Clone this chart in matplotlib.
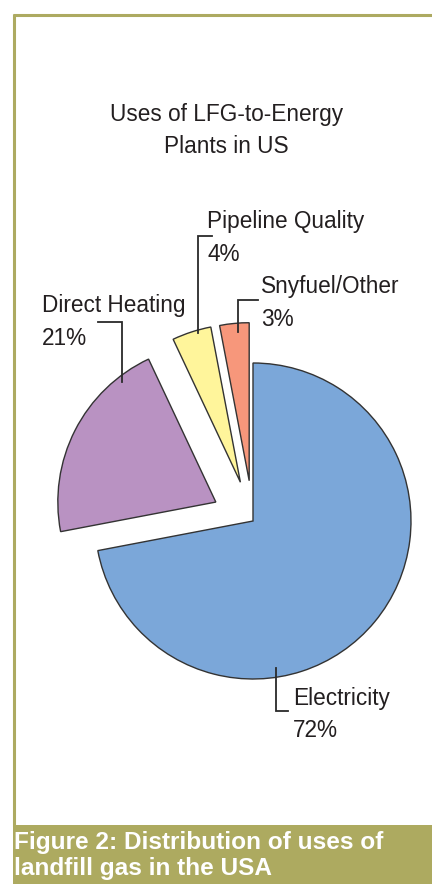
import matplotlib
matplotlib.use("Agg")
import matplotlib.pyplot as plt
from matplotlib import font_manager as fm
from matplotlib.patches import Rectangle

# ---- data ----
categories = ["Electricity", "Direct Heating", "Pipeline Quality", "Snyfuel/Other"]
values = [72, 21, 4, 3]
colors = ["#7BA7D9", "#B992C2", "#FFF59B", "#F7977B"]
explode_frac = [0.0, 0.264, 0.258, 0.256]
title_lines = ["Uses of LFG-to-Energy", "Plants in US"]
caption_lines = ["Figure 2: Distribution of uses of", "landfill gas in the USA"]

W, H = 432, 884
R = 158
fig = plt.figure(figsize=(W / 100, H / 100), dpi=100)
ax = fig.add_axes([0, 0, 1, 1])


def Y(py):
    return H - py


names = {f.name for f in fm.fontManager.ttflist}
if "Liberation Sans Narrow" in names:
    fam, fs = ["Liberation Sans Narrow", "DejaVu Sans"], 19.8
else:
    fam, fs = ["Liberation Sans", "DejaVu Sans"], 16.3
cap_fam = ["Liberation Sans", "DejaVu Sans"]
olive = "#ADAA61"
txt = "#231F20"

# frame lines
ax.plot([13, W], [Y(15.3), Y(15.3)], color=olive, lw=2.2, solid_capstyle="butt", zorder=1)
ax.plot([14.3, 14.3], [Y(14), Y(826)], color=olive, lw=2.2, solid_capstyle="butt", zorder=1)
ax.add_patch(Rectangle((12.5, 0), W - 12.5, Y(825), facecolor="#ADAA60", edgecolor="none", zorder=1))

# pie (explode in matplotlib is in data units, so scale by the radius)
wedges, _ = ax.pie(values, colors=colors, explode=[e * R for e in explode_frac],
                   startangle=90, counterclock=False, center=(253, Y(521)), radius=R,
                   frame=True,
                   wedgeprops=dict(edgecolor="#333333", linewidth=1.0))

# title
for line, by in zip(title_lines, [121, 153]):
    ax.text(226.5, Y(by), line, ha="center", va="baseline", fontsize=fs,
            family=fam, color=txt)

# labels: (left x, baseline1, baseline2) and leader polyline in px
label_pos = {
    "Electricity": (293, 705, 737),
    "Direct Heating": (42, 312, 345),
    "Pipeline Quality": (207, 228, 261),
    "Snyfuel/Other": (261, 293, 326),
}
leaders = {
    "Electricity": [(276, 668), (276, 711), (288, 711)],
    "Direct Heating": [(98, 322), (122, 322), (122, 382)],
    "Pipeline Quality": [(212, 236), (198, 236), (198, 333)],
    "Snyfuel/Other": [(258, 300), (238, 300), (238, 332)],
}
for cat, v in zip(categories, values):
    x, b1, b2 = label_pos[cat]
    ax.text(x, Y(b1), cat, ha="left", va="baseline", fontsize=fs, family=fam, color=txt)
    ax.text(x, Y(b2), f"{v}%", ha="left", va="baseline", fontsize=fs, family=fam, color=txt)
    pts = leaders[cat]
    ax.plot([p[0] for p in pts], [Y(p[1]) for p in pts], color="#2a2a2a", lw=1.3,
            solid_joinstyle="miter", zorder=5)

# caption
for line, by in zip(caption_lines, [849.5, 875]):
    ax.text(14, Y(by), line, ha="left", va="baseline", fontsize=17.6,
            family=cap_fam, weight="bold", color="white", zorder=3)

ax.set_xlim(0, W)
ax.set_ylim(0, H)
ax.set_aspect("equal", adjustable="box")
ax.axis("off")
fig.savefig("out.png", dpi=100)
